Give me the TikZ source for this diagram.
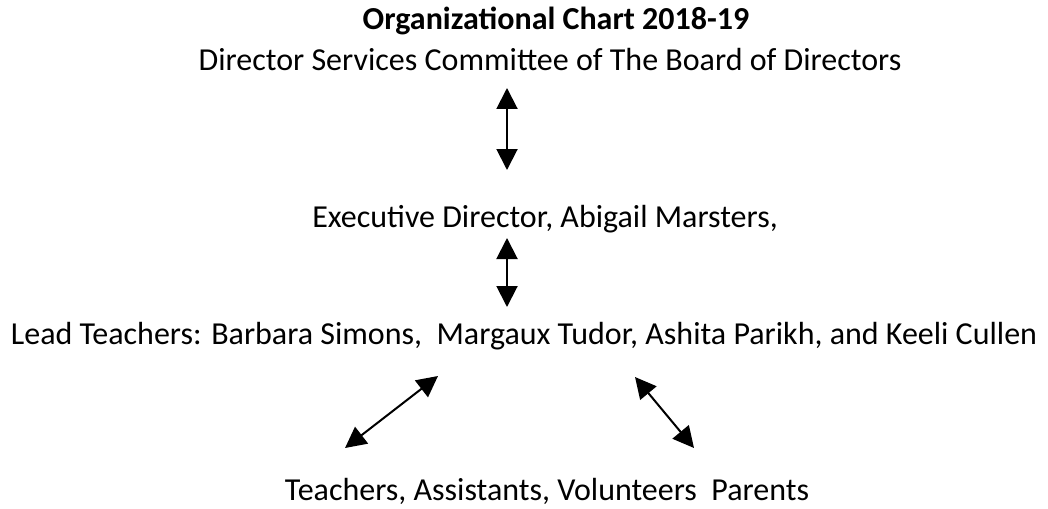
\documentclass[tikz,border=0pt]{standalone}
\usepackage{fontspec}
\setmainfont{Carlito}
\usetikzlibrary{arrows.meta}
\begin{document}
\begin{tikzpicture}[x=1pt,y=-1pt,
  lbl/.style={inner sep=0pt,anchor=base,font=\fontsize{32}{38}\selectfont},
  dblarrow/.style={line width=2pt,{Triangle[width=21pt,length=21pt]}-{Triangle[width=21pt,length=21pt]}}]
\useasboundingbox (0,0) rectangle (1048,508);
\node[lbl,font=\fontsize{32}{38}\selectfont\bfseries] (title) at (556,30) {Organizational Chart 2018-19};
\node[lbl] (board) at (550,71) {Director Services Committee of The Board of Directors};
\node[lbl] (exec) at (545,227) {Executive Director, Abigail Marsters,};
\node[lbl] (lead) at (524,344) {Lead Teachers: Barbara Simons,\ \ Margaux Tudor, Ashita Parikh, and Keeli Cullen};
\node[lbl] (staff) at (547,500) {Teachers, Assistants, Volunteers\ \ Parents};
\coordinate (a1) at (507,88);
\coordinate (a2) at (507,170);
\coordinate (b1) at (507,238);
\coordinate (b2) at (507,307);
\coordinate (c1) at (345,448);
\coordinate (c2) at (438,376);
\coordinate (d1) at (635,377);
\coordinate (d2) at (694,448);
\draw[dblarrow] (a1) -- (a2);
\draw[dblarrow] (b1) -- (b2);
\draw[dblarrow] (c1) -- (c2);
\draw[dblarrow] (d1) -- (d2);
\end{tikzpicture}
\end{document}
